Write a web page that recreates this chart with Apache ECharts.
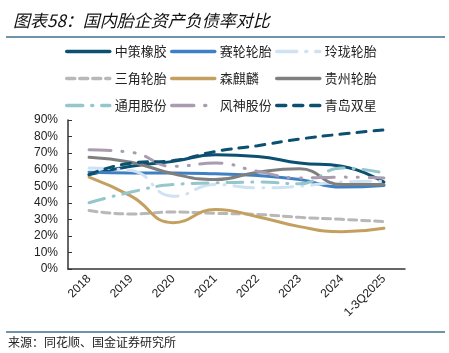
<!DOCTYPE html>
<html>
<head>
<meta charset="utf-8">
<style>
  html, body { margin: 0; padding: 0; background: #fff; }
  #chart_1 { width: 449px; height: 353px; }
</style>
<script src="https://cdn.jsdelivr.net/npm/echarts@6/dist/echarts.min.js"></script>
</head>
<body>
<div id="chart_1"></div>
<script>
// 年份
var years = ['2018', '2019', '2020', '2021', '2022', '2023', '2024', '1-3Q2025'];
var yTicks = ['0%', '10%', '20%', '30%', '40%', '50%', '60%', '70%', '80%', '90%'];

// 资产负债率 (%)
var zhongce    = [57, 62, 65, 69, 68, 64, 62, 52.5];
var sailun     = [58.5, 58, 58, 57.5, 56.5, 54, 49.5, 50.5];
var linglong   = [61, 59.5, 44, 51, 49, 50, 52.5, 53];
var sanjiao    = [35.3, 33.2, 34.4, 33.6, 33, 31.2, 30, 28.6];
var senqilin   = [55.5, 44, 28, 36, 31.6, 25.6, 22.5, 24.6];
var guizhou    = [67.5, 64.5, 57.5, 54, 58.5, 60.5, 51, 51];
var tongyong   = [40, 46.5, 51, 52, 52.5, 51.5, 61, 58];
var fengshen   = [72, 70.5, 62, 64, 59, 55, 55.5, 55];
var qingdao    = [57, 64, 65.5, 71, 74.5, 78.5, 81.5, 84];

var names = ['中策橡胶', '赛轮轮胎', '玲珑轮胎', '三角轮胎', '森麒麟', '贵州轮胎', '通用股份', '风神股份', '青岛双星'];
var values = [zhongce, sailun, linglong, sanjiao, senqilin, guizhou, tongyong, fengshen, qingdao];
var colors = ['#0b4f71', '#3f7fc4', '#cfe2f3', '#b8b8b8', '#c4a060', '#7f7f7f', '#94c6cb', '#a99cb0', '#0b4f71'];
var dashes = ['solid', 'solid', [20, 9, 1, 9], [8, 5], 'solid', 'solid', [16, 9, 1, 9], [22, 11, 1, 11, 1, 11], [9, 8]];

var font = '"Noto Sans CJK SC", "Liberation Sans", sans-serif';

var myChart = echarts.init(document.getElementById('chart_1'));

var series = [];
for (var i = 0; i < names.length; i++) {
  series.push({
    name: names[i],
    type: 'line',
    data: values[i],
    smooth: true,
    symbol: 'none',
    lineStyle: { color: colors[i], width: 3, type: dashes[i], cap: 'round' },
    itemStyle: { color: colors[i] }
  });
}

function colLegend(left, list) {
  return {
    orient: 'vertical',
    left: left,
    top: 45,
    itemWidth: 43,
    itemHeight: 12,
    itemGap: 14,
    padding: 0,
    data: list,
    itemStyle: { opacity: 0 },
    lineStyle: { width: 3.5 },
    textStyle: { fontSize: 13, color: '#222', fontFamily: font }
  };
}

var option = {
  animation: false,
  title: {
    text: '图表58：国内胎企资产负债率对比',
    left: 8,
    top: 7,
    textStyle: { fontSize: 17, fontStyle: 'italic', fontWeight: 'normal', color: '#111', fontFamily: font }
  },
  graphic: [
    { type: 'line', shape: { x1: 6, y1: 37, x2: 445, y2: 37 }, style: { stroke: '#3f6f8e', lineWidth: 1.5 } },
    { type: 'line', shape: { x1: 6, y1: 332, x2: 445, y2: 332 }, style: { stroke: '#3f6f8e', lineWidth: 1.5 } },
    { type: 'text', left: 8, top: 336, style: { text: '来源：同花顺、国金证券研究所', fontSize: 12, fill: '#222', fontFamily: font } }
  ],
  legend: [
    colLegend(65, [names[0], names[3], names[6]]),
    colLegend(170, [names[1], names[4], names[7]]),
    colLegend(275, [names[2], names[5], names[8]])
  ],
  grid: { left: 68, right: 44, top: 120, bottom: 84 },
  xAxis: {
    type: 'category',
    data: years,
    boundaryGap: true,
    axisLine: { lineStyle: { color: '#333', width: 1.5 } },
    axisTick: { inside: true, length: 4, lineStyle: { color: '#333' } },
    axisLabel: { rotate: 45, fontSize: 12, color: '#222', margin: 8, fontFamily: '"Liberation Sans", sans-serif' }
  },
  yAxis: {
    type: 'value',
    min: 0,
    max: 90,
    interval: 10,
    splitLine: { show: false },
    axisLine: { show: true, lineStyle: { color: '#333', width: 1.5 } },
    axisTick: { show: true, inside: true, length: 4, lineStyle: { color: '#333' } },
    axisLabel: {
      fontSize: 12, color: '#222', margin: 10, fontFamily: '"Liberation Sans", sans-serif',
      formatter: function (v) { return yTicks[Math.round(v / 10)]; }
    }
  },
  series: series
};

myChart.setOption(option);
window.addEventListener('resize', function () {
  myChart.resize();
});
</script>
</body>
</html>
